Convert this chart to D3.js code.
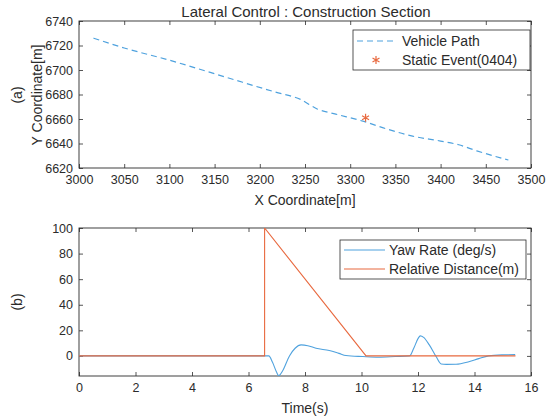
<!DOCTYPE html>
<html><head><meta charset="utf-8">
<script src="https://cdn.jsdelivr.net/npm/d3@7"></script>
<style>
body{margin:0;background:#fff;}
svg text{font-family:"Liberation Sans",Arial,sans-serif;fill:#2b2b2b;}
</style></head>
<body>
<svg id="c" width="553" height="418"></svg>
<script>
// ---- Data: top panel (vehicle path) ----
const pathX = [3016, 3050, 3100, 3163, 3217, 3245, 3264, 3284, 3315, 3342, 3369, 3400, 3420, 3440, 3475];
const pathY = [6726, 6718, 6708, 6694, 6682, 6676, 6668, 6664, 6658, 6651.5, 6646, 6642, 6639, 6634, 6626.5];
const eventX = [3317];
const eventY = [6661];
const topXTicks = [3000, 3050, 3100, 3150, 3200, 3250, 3300, 3350, 3400, 3450, 3500];
const topYTicks = [6620, 6640, 6660, 6680, 6700, 6720, 6740];

// ---- Data: bottom panel ----
const yawT = [0, 6.6, 6.72, 6.85, 7.0, 7.07, 7.2, 7.45, 7.65, 7.86, 8.1, 8.39, 8.86, 9.2, 9.45, 10.04, 10.6, 11.2, 11.7, 11.85, 12.0, 12.08, 12.2, 12.4, 12.64, 12.82, 13.0, 13.35, 13.8, 14.15, 14.5, 14.97, 15.44];
const yawV = [0, 0, 0, -5, -13, -15.5, -12, 0, 6, 8.6, 8, 6.0, 4.2, 2, 0.3, -0.5, -1, -0.5, 0, 6, 13.5, 15.7, 14.5, 8.6, -0.5, -6.3, -6.6, -6.5, -4.5, -2.1, 0, 0.8, 1.0];
const distT = [0, 6.57, 6.57, 10.16, 15.45];
const distV = [0, 0, 100, 0, 0];
const botXTicks = [0, 2, 4, 6, 8, 10, 12, 14, 16];
const botYTicks = [0, 20, 40, 60, 80, 100];

const BLUE = "#4fa2de", ORANGE = "#e8693f", AX = "#2b2b2b";
const svg = d3.select("#c");
const FS = 12.5, LFS = 14, TFS = 15;

function panel(cfg){
  const g = svg.append("g");
  const x = d3.scaleLinear().domain(cfg.xd).range([cfg.L, cfg.R]);
  const y = d3.scaleLinear().domain(cfg.yd).range([cfg.B, cfg.T]);
  const tl = 4;
  const mk = (axis, pos) => {
    const a = g.append("g").attr("transform", pos).call(axis);
    a.select(".domain").remove();
    a.selectAll("line").attr("stroke", AX).attr("stroke-width", 0.8);
    a.selectAll("text").attr("font-size", FS).attr("fill", AX).style("font-family","'Liberation Sans',Arial,sans-serif");
    return a;
  };
  mk(d3.axisBottom(x).tickValues(cfg.xt).tickSize(-tl).tickPadding(7).tickFormat(d3.format("d")), `translate(0,${cfg.B})`);
  mk(d3.axisTop(x).tickValues(cfg.xt).tickSize(-tl).tickFormat("")  , `translate(0,${cfg.T})`);
  mk(d3.axisLeft(y).tickValues(cfg.yt).tickSize(-tl).tickPadding(6).tickFormat(d3.format("d")), `translate(${cfg.L},0)`);
  mk(d3.axisRight(y).tickValues(cfg.yt).tickSize(-tl).tickFormat(""), `translate(${cfg.R},0)`);
  g.append("rect").attr("x", cfg.L).attr("y", cfg.T).attr("width", cfg.R-cfg.L).attr("height", cfg.B-cfg.T)
    .attr("fill","none").attr("stroke", AX).attr("stroke-width", 0.9);
  return {g, x, y};
}

// ---- Top panel ----
const P1 = panel({L:79, R:531, T:21, B:168, xd:[3000,3500], yd:[6620,6740], xt:topXTicks, yt:topYTicks});
P1.g.append("path")
  .datum(pathX.map((v,i)=>[v, pathY[i]]))
  .attr("d", d3.line().x(d=>P1.x(d[0])).y(d=>P1.y(d[1])).curve(d3.curveMonotoneX))
  .attr("fill","none").attr("stroke", BLUE).attr("stroke-width", 1.2).attr("stroke-dasharray","6,4");
const star = d3.symbol().type(d3.symbolAsterisk).size(45);
P1.g.selectAll(".ev").data(eventX.map((v,i)=>[v,eventY[i]])).join("path")
  .attr("transform", d=>`translate(${P1.x(d[0])},${P1.y(d[1])})`)
  .attr("d", star).attr("fill","none").attr("stroke", ORANGE).attr("stroke-width", 1.2);

svg.append("text").attr("x", 306).attr("y", 17).attr("text-anchor","middle").attr("font-size", TFS).text("Lateral Control : Construction Section");
svg.append("text").attr("x", 305).attr("y", 205).attr("text-anchor","middle").attr("font-size", LFS).text("X Coordinate[m]");
svg.append("text").attr("transform","translate(42,95) rotate(-90)").attr("text-anchor","middle").attr("font-size", LFS).text("Y Coordinate[m]");
svg.append("text").attr("transform","translate(22,95) rotate(-90)").attr("text-anchor","middle").attr("font-size", LFS).text("(a)");

// legend top
const lg1 = svg.append("g");
lg1.append("rect").attr("x",353).attr("y",30).attr("width",177).attr("height",40).attr("fill","#fff").attr("stroke",AX).attr("stroke-width",0.8);
lg1.append("line").attr("x1",357).attr("x2",397).attr("y1",41).attr("y2",41).attr("stroke",BLUE).attr("stroke-width",1.2).attr("stroke-dasharray","6,4");
lg1.append("path").attr("transform","translate(376,60)").attr("d",star).attr("fill","none").attr("stroke",ORANGE).attr("stroke-width",1.2);
lg1.append("text").attr("x",402).attr("y",46).attr("font-size",LFS).text("Vehicle Path");
lg1.append("text").attr("x",402).attr("y",65).attr("font-size",LFS).text("Static Event(0404)");

// ---- Bottom panel ----
const P2 = panel({L:79, R:531, T:228, B:376, xd:[0,16], yd:[-15.7,100], xt:botXTicks, yt:botYTicks});
svg.append("clipPath").attr("id","cl2").append("rect").attr("x",79).attr("y",228).attr("width",452).attr("height",148);
const gl = P2.g.append("g").attr("clip-path","url(#cl2)");
gl.append("path").datum(yawT.map((v,i)=>[v,yawV[i]]))
  .attr("d", d3.line().x(d=>P2.x(d[0])).y(d=>P2.y(d[1])).curve(d3.curveMonotoneX))
  .attr("fill","none").attr("stroke",BLUE).attr("stroke-width",1.1);
gl.append("path").datum(distT.map((v,i)=>[v,distV[i]]))
  .attr("d", d3.line().x(d=>P2.x(d[0])).y(d=>P2.y(d[1])))
  .attr("fill","none").attr("stroke",ORANGE).attr("stroke-width",1.1);

svg.append("text").attr("x", 305).attr("y", 413).attr("text-anchor","middle").attr("font-size", LFS).text("Time(s)");
svg.append("text").attr("transform","translate(22,302) rotate(-90)").attr("text-anchor","middle").attr("font-size", LFS).text("(b)");

const lg2 = svg.append("g");
lg2.append("rect").attr("x",340).attr("y",240).attr("width",186).attr("height",39).attr("fill","#fff").attr("stroke",AX).attr("stroke-width",0.8);
lg2.append("line").attr("x1",344).attr("x2",385).attr("y1",250).attr("y2",250).attr("stroke",BLUE).attr("stroke-width",1.1);
lg2.append("line").attr("x1",344).attr("x2",385).attr("y1",269).attr("y2",269).attr("stroke",ORANGE).attr("stroke-width",1.1);
lg2.append("text").attr("x",389).attr("y",255).attr("font-size",LFS).text("Yaw Rate (deg/s)");
lg2.append("text").attr("x",389).attr("y",274).attr("font-size",LFS).text("Relative Distance(m)");
</script>
</body></html>
